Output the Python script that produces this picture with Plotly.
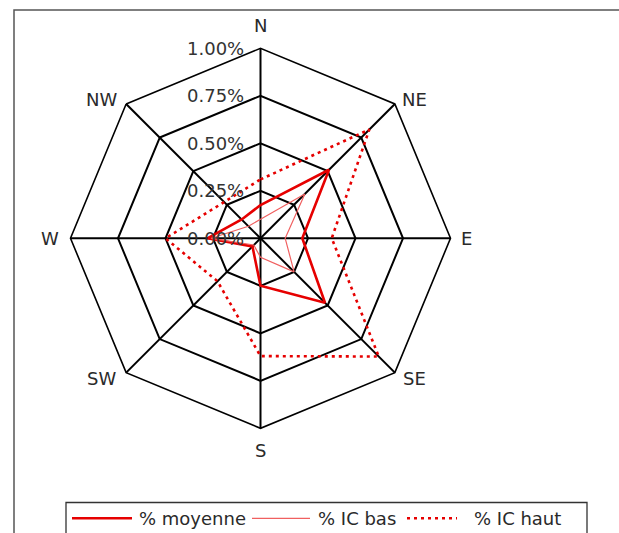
import plotly.graph_objects as go

# Wind-direction sectors and percentage values (in %)
directions = ["N", "NE", "E", "SE", "S", "SW", "W", "NW"]
pct_moyenne = [0.175, 0.51, 0.22, 0.48, 0.25, 0.06, 0.28, 0.14]
pct_ic_bas = [0.10, 0.33, 0.13, 0.25, 0.10, 0.05, 0.26, 0.09]
pct_ic_haut = [0.31, 0.81, 0.375, 0.88, 0.62, 0.32, 0.50, 0.27]

radial_ticks = [0.0, 0.25, 0.5, 0.75, 1.0]
radial_ticktext = ["0.00%", "0.25%", "0.50%", "0.75%", "1.00%"]

W, H = 619, 533
FONT = "DejaVu Sans"
TEXT = "#2a2a2a"


def closed(values):
    return list(values) + [values[0]]


theta = closed(directions)

fig = go.Figure()
fig.add_trace(go.Scatterpolar(
    r=closed(pct_moyenne), theta=theta, mode="lines", name="% moyenne",
    line=dict(color="#e60000", width=2.6), showlegend=False,
))
fig.add_trace(go.Scatterpolar(
    r=closed(pct_ic_bas), theta=theta, mode="lines", name="% IC bas",
    line=dict(color="#f06060", width=1.2), showlegend=False,
))
fig.add_trace(go.Scatterpolar(
    r=closed(pct_ic_haut), theta=theta, mode="lines", name="% IC haut",
    line=dict(color="#e60000", width=2.6, dash="3px,4px"), showlegend=False,
))


# pixel helpers for paper coordinates
def px(x):
    return x / W


def py(y):
    return 1 - y / H


cx, cy, R = 260.5, 238.3, 190.0

shapes = [
    # outer frame
    dict(type="rect", xref="paper", yref="paper",
         x0=px(14), x1=px(640), y0=py(560), y1=py(10),
         line=dict(color="#555555", width=1.5), fillcolor="rgba(0,0,0,0)"),
    # legend box
    dict(type="rect", xref="paper", yref="paper",
         x0=px(66), x1=px(587), y0=py(560), y1=py(502.5),
         line=dict(color="#333333", width=1.3), fillcolor="white"),
]
annotations = []

# legend entries
legend_items = [
    ("% moyenne", 72, 132, 137, dict(color="#e60000", width=2.6)),
    ("% IC bas", 252, 310, 316, dict(color="#f06060", width=1.3)),
    ("% IC haut", 407, 457, 472, dict(color="#e60000", width=2.6, dash="3px,4px")),
]
ly = 518.3
for label, x0, x1, xt, style in legend_items:
    shapes.append(dict(type="line", xref="paper", yref="paper",
                       x0=px(x0), x1=px(x1), y0=py(ly), y1=py(ly), line=style))
    annotations.append(dict(text=label, xref="paper", yref="paper",
                            x=px(xt), y=py(ly), xanchor="left", yanchor="middle",
                            showarrow=False, font=dict(family=FONT, size=18, color=TEXT)))

# radial tick labels, left of the north spoke, level with each ring
for val, txt in zip(radial_ticks, radial_ticktext):
    annotations.append(dict(text=txt, xref="paper", yref="paper",
                            x=px(cx - 14), y=py(cy - val * R),
                            xanchor="right", yanchor="middle", showarrow=False,
                            font=dict(family=FONT, size=18, color="#333333")))

# direction labels around the outer ring
label_offsets = {
    "N": (0, -213), "NE": (154, -139), "E": (206, 0), "SE": (154, 140),
    "S": (0, 212), "SW": (-159, 140), "W": (-211, 0), "NW": (-159, -139),
}
for d in directions:
    dx, dy = label_offsets[d]
    annotations.append(dict(text=d, xref="paper", yref="paper",
                            x=px(cx + dx), y=py(cy + dy),
                            xanchor="center", yanchor="middle", showarrow=False,
                            font=dict(family=FONT, size=18, color=TEXT)))

fig.update_layout(
    width=W, height=H,
    margin=dict(l=0, r=0, t=0, b=0),
    paper_bgcolor="white",
    font=dict(family=FONT, size=18, color=TEXT),
    showlegend=False,
    shapes=shapes,
    annotations=annotations,
    polar=dict(
        domain=dict(x=[px(cx - R), px(cx + R)], y=[py(cy + R), py(cy - R)]),
        bgcolor="white",
        gridshape="linear",
        radialaxis=dict(
            range=[0, 1.0], tickvals=radial_ticks, showticklabels=False,
            angle=90, showline=False, ticks="",
            gridcolor="black", gridwidth=1.6,
            layer="below traces",
        ),
        angularaxis=dict(
            direction="clockwise", rotation=90,
            categoryorder="array", categoryarray=directions,
            showline=True, linecolor="black", linewidth=1.6,
            gridcolor="black", gridwidth=1.6,
            ticks="", showticklabels=False,
            layer="below traces",
        ),
    ),
)

fig.write_html("out.html")
